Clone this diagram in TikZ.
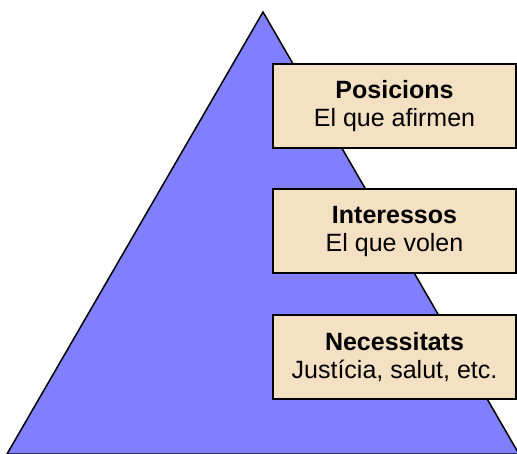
\documentclass[tikz,border=0pt]{standalone}
\usepackage{fontspec}
\setmainfont{Liberation Sans}
\definecolor{pyramidblue}{RGB}{128,128,255}
\definecolor{boxbeige}{RGB}{244,224,194}

\begin{document}
\begin{tikzpicture}
  [x=1pt, y=-1pt,
  level/.style={rectangle, draw=black, line width=1.5pt, fill=boxbeige,
  minimum width=243pt, minimum height=84pt, align=center,
  font=\fontsize{25}{28}\selectfont},
  pyramid/.style={draw=black, line width=1.5pt, fill=pyramidblue}]

  \clip (0,0) rectangle (517,453);
  \path [pyramid] (263,12) -- (519,454) -- (7,454) -- cycle;

  \node [level] (pos) at (394.5,106) {\textbf{Posicions}\\El que afirmen};
  \node [level] (int) at (394.5,231) {\textbf{Interessos}\\El que volen};
  \node [level] (nec) at (394.5,357) {\textbf{Necessitats}\\Justícia, salut, etc.};
\end{tikzpicture}
\end{document}
